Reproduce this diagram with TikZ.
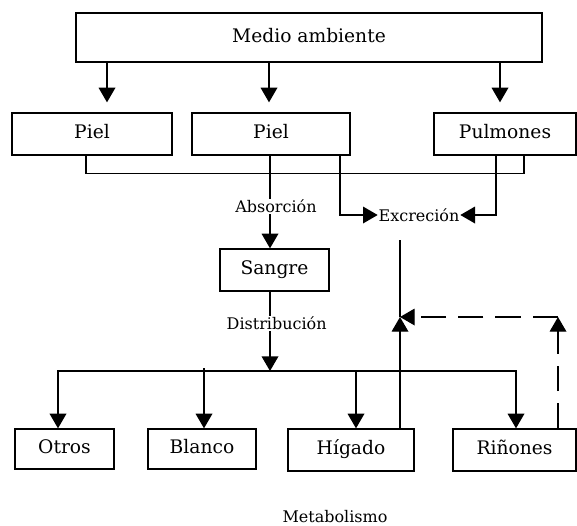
\documentclass[tikz,border=0pt]{standalone}
\usepackage{fontspec}
\setmainfont{DejaVu Serif}
\usetikzlibrary{arrows.meta,calc,positioning}

\begin{document}
\begin{tikzpicture}[x=0.75pt, y=-0.75pt,
    box/.style={draw, line width=1pt, inner sep=0pt, text height=10pt, text depth=3pt, font=\fontsize{14}{16}\selectfont},
    lbl/.style={fill=white, inner sep=1pt, font=\fontsize{12}{14}\selectfont},
    arr/.style={line width=1pt, -{Triangle[length=11pt,width=12.5pt]}},
    ln/.style={line width=1pt}]
    \useasboundingbox (0,0) rectangle (577,525);

    % Source and entry routes
    \node[box, minimum width=349.5pt, minimum height=36.75pt] (medio) at (309,37.5) {Medio ambiente};
    \node[box, minimum width=120pt, minimum height=31.5pt] (piel1) at (92,134) {Piel};
    \node[box, minimum width=118.5pt, minimum height=31.5pt] (piel2) at (271,134) {Piel};
    \node[box, minimum width=106.5pt, minimum height=31.5pt] (pulm) at (505,134) {Pulmones};

    \draw[arr, shorten >=7.5pt] (medio.south -| 107,0) -- (piel1.north -| 107,0);
    \draw[arr, shorten >=7.5pt] (medio.south -| 269,0) -- (piel2.north -| 269,0);
    \draw[arr, shorten >=7.5pt] (medio.south -| 500,0) -- (pulm.north -| 500,0);

    % Blood and excretion
    \node[box, minimum width=81.75pt, minimum height=31.5pt] (sangre) at (274.5,270) {Sangre};
    \node[lbl, inner sep=0.5pt] (exc) at (419,215) {Excreción};

    \draw[ln] (piel1.south -| 86,0) -- ++(0,18) -| (pulm.south -| 524,0);
    \draw[arr] (piel2.south -| 270,0) -- node[lbl, pos=0.55, xshift=4.5pt] (absorb) {Absorción} (sangre.north -| 270,0);
    \draw[arr] (piel2.south -| 340,0) |- (exc.west);
    \draw[arr] (pulm.south -| 496,0) |- (exc.east);

    % Distribution to tissues
    \node[box, minimum width=74.25pt, minimum height=30pt] (otros) at (64.5,449) {Otros};
    \node[box, minimum width=81pt, minimum height=30pt] (blanco) at (202,449) {Blanco};
    \node[box, minimum width=94.5pt, minimum height=31.5pt] (higado) at (351,450) {Hígado};
    \node[box, minimum width=92.25pt, minimum height=31.5pt] (rinones) at (514.5,450) {Riñones};

    \coordinate (dist) at (270,371);
    \draw[arr] (sangre.south -| dist) -- node[lbl, pos=0.4, xshift=5pt] (distrib) {Distribución} (dist);
    \draw[arr] (dist) -| ($(otros.north)+(-6.5,0)$);
    \draw[arr] (dist) -| ($(rinones.north)+(1.5,0)$);
    \draw[arr] ($(dist -| blanco.north)+(2,-3)$) -- ($(blanco.north)+(2,0)$);
    \draw[arr] (dist -| 356,0) -- (higado.north -| 356,0);

    % Return from liver and kidneys
    \coordinate (meet) at (400,317);
    \coordinate (upper) at (400,240);
    \coordinate (corner) at (558,317);
    \draw[arr] (higado.north -| meet) -- (meet);
    \draw[ln] (meet) -- (upper);
    \draw[arr, dash pattern=on 19pt off 9pt] (rinones.north -| corner) -- (corner);
    \draw[arr, dash pattern=on 19pt off 9pt] (corner) -- (meet);

    \node[lbl] (metab) at (335,517) {Metabolismo};
\end{tikzpicture}
\end{document}
